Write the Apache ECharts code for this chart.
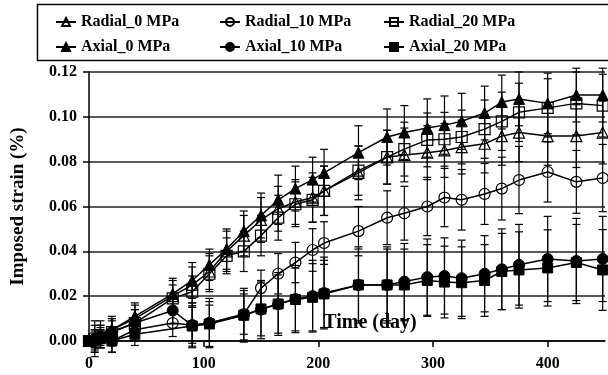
<!DOCTYPE html>
<html>
<head>
<meta charset="utf-8">
<script src="https://cdn.jsdelivr.net/npm/echarts@6/dist/echarts.min.js"></script>
<style>
  html, body { margin: 0; padding: 0; background: #fff; }
  #chart { width: 608px; height: 375px; }
</style>
</head>
<body>
<div id="chart"></div>
<script>
// time in days
const days = [0, 5, 10, 20, 40, 73, 90, 105, 120, 135, 150, 165, 180, 195, 205, 235, 260, 275, 295, 310, 325, 345, 360, 375, 400, 425, 448];

// imposed strain (%)
const radial0 = [0, 0.001, 0.003, 0.005, 0.010, 0.020, 0.025, 0.031, 0.040, 0.047, 0.054, 0.059, 0.062, 0.064, 0.067, 0.075, 0.082, 0.083, 0.084, 0.085, 0.0865, 0.088, 0.0914, 0.093, 0.0914, 0.0914, 0.093];
const radial10 = [0, 0, 0.001, 0, 0.005, 0.008, 0.007, 0.008, null, 0.012, 0.0236, 0.030, 0.035, 0.0406, 0.0437, 0.049, 0.055, 0.057, 0.060, 0.064, 0.063, 0.0656, 0.068, 0.0718, 0.0754, 0.071, 0.0727];
const radial20 = [0, 0.001, 0.002, 0.004, 0.008, 0.019, 0.022, 0.030, 0.038, 0.040, 0.047, 0.055, 0.061, 0.063, 0.067, 0.076, 0.082, 0.0856, 0.0897, 0.090, 0.091, 0.0945, 0.098, 0.102, 0.104, 0.106, 0.105];
const axial0 = [0, 0.001, 0.003, 0.005, 0.011, 0.021, 0.027, 0.034, 0.041, 0.049, 0.056, 0.063, 0.068, 0.072, 0.075, 0.084, 0.091, 0.093, 0.095, 0.0963, 0.098, 0.1017, 0.1066, 0.108, 0.106, 0.1097, 0.1097];
const axial10 = [0, 0.001, 0.002, 0.004, 0.008, 0.0136, 0.007, 0.008, null, 0.0115, 0.014, 0.0165, 0.0187, 0.020, 0.0214, 0.025, 0.025, 0.0265, 0.0285, 0.029, 0.028, 0.030, 0.032, 0.034, 0.0366, 0.0357, 0.0366];
const axial20 = [0, 0, 0.001, 0, 0.003, null, 0.0067, 0.0076, null, 0.0115, 0.0143, 0.0165, 0.0185, 0.0195, 0.021, 0.025, 0.025, 0.025, 0.027, 0.0263, 0.026, 0.027, 0.031, 0.0317, 0.0326, 0.035, 0.0317];

// error (+/-)
const radial0Err = [0.002, 0.004, 0.004, 0.005, 0.006, 0.007, 0.008, 0.008, 0.009, 0.009, 0.010, 0.010, 0.010, 0.011, 0.011, 0.012, 0.012, 0.012, 0.012, 0.012, 0.012, 0.013, 0.013, 0.013, 0.013, 0.014, 0.014];
const radial10Err = [0.002, 0.004, 0.004, 0.005, 0.005, 0.006, 0.008, 0.008, null, 0.009, 0.008, 0.009, 0.009, 0.0095, 0.0095, 0.011, 0.012, 0.012, 0.013, 0.013, 0.0135, 0.0136, 0.014, 0.015, 0.0134, 0.014, 0.015];
const radial20Err = [0.002, 0.004, 0.004, 0.005, 0.006, 0.006, 0.007, 0.008, 0.008, 0.009, 0.009, 0.010, 0.010, 0.010, 0.011, 0.011, 0.012, 0.012, 0.012, 0.012, 0.012, 0.013, 0.013, 0.013, 0.013, 0.014, 0.014];
const axial0Err = [0.002, 0.006, 0.006, 0.006, 0.006, 0.007, 0.008, 0.007, 0.009, 0.009, 0.010, 0.011, 0.010, 0.010, 0.0105, 0.012, 0.0125, 0.012, 0.013, 0.013, 0.0125, 0.012, 0.012, 0.012, 0.0135, 0.012, 0.012];
const axial10Err = [0.002, 0.008, 0.005, 0.006, 0.006, 0.006, 0.010, 0.011, null, 0.012, 0.013, 0.014, 0.015, 0.016, 0.016, 0.017, 0.017, 0.017, 0.017, 0.017, 0.017, 0.017, 0.018, 0.018, 0.019, 0.019, 0.019];
const axial20Err = [0.002, 0.005, 0.004, 0.005, 0.005, null, 0.009, 0.010, null, 0.011, 0.012, 0.013, 0.014, 0.015, 0.015, 0.016, 0.016, 0.016, 0.016, 0.016, 0.016, 0.016, 0.017, 0.017, 0.017, 0.017, 0.018];

const xTicks = [0, 100, 200, 300, 400];

const FONT = 'Liberation Serif';
const chart = echarts.init(document.getElementById('chart'));

const toPts = (vals) => days.map((d, i) => [d, vals[i]]);
const toBars = (vals, err) => days
  .map((d, i) => (vals[i] == null || err[i] == null) ? null : [d, vals[i] - err[i], vals[i] + err[i]])
  .filter(v => v);

function errBar(params, api) {
  const x = api.value(0);
  const top = api.coord([x, api.value(2)]);
  const bot = api.coord([x, api.value(1)]);
  const w = 4;
  const st = { stroke: '#000', lineWidth: 1.2 };
  return {
    type: 'group',
    children: [
      { type: 'line', shape: { x1: top[0], y1: top[1], x2: bot[0], y2: bot[1] }, style: st },
      { type: 'line', shape: { x1: top[0] - w, y1: top[1], x2: top[0] + w, y2: top[1] }, style: st },
      { type: 'line', shape: { x1: bot[0] - w, y1: bot[1], x2: bot[0] + w, y2: bot[1] }, style: st }
    ]
  };
}

const open = { color: 'rgba(255,255,255,0)', borderColor: '#000', borderWidth: 1.2 };
const filled = { color: '#000', borderColor: '#000', borderWidth: 1 };

function lineSeries(name, vals, symbol, size, style) {
  return {
    name, type: 'line', data: toPts(vals), symbol, symbolSize: size,
    showAllSymbol: true, connectNulls: true, clip: false, z: 3,
    lineStyle: { color: '#000', width: 1.5 },
    itemStyle: style
  };
}
function barSeries(vals, err) {
  return {
    type: 'custom', renderItem: errBar, data: toBars(vals, err),
    encode: { x: 0, y: [1, 2] }, z: 2, silent: true
  };
}

const legendBase = {
  orient: 'vertical', top: 9, itemGap: 9, itemWidth: 20, itemHeight: 10,
  textStyle: { fontFamily: FONT, fontWeight: 'bold', fontSize: 16, color: '#000' }
};

const option = {
  animation: false,
  backgroundColor: '#fff',
  textStyle: { fontFamily: FONT },
  graphic: [{
    type: 'rect', left: 35, top: 2, shape: { width: 600, height: 56 },
    style: { fill: 'none', stroke: '#000', lineWidth: 1.5 }
  }],
  legend: [
    Object.assign({ left: 50, data: ['Radial_0 MPa', 'Axial_0 MPa'] }, legendBase),
    Object.assign({ left: 214, data: ['Radial_10 MPa', 'Axial_10 MPa'] }, legendBase),
    Object.assign({ left: 378, data: ['Radial_20 MPa', 'Axial_20 MPa'] }, legendBase)
  ],
  grid: { left: 89, top: 72, width: 516, height: 269 },
  xAxis: {
    type: 'value', min: 0, max: 450, interval: 100,
    name: 'Time (day)', nameLocation: 'middle', nameGap: -28,
    nameTextStyle: { fontFamily: FONT, fontWeight: 'bold', fontSize: 20, color: '#000', padding: [0, 0, 0, 46] },
    axisLine: { show: true, lineStyle: { color: '#000', width: 1.5 } },
    axisTick: { show: true, inside: false, length: 6, lineStyle: { color: '#000', width: 1.5 },
      customValues: xTicks },
    axisLabel: { fontFamily: FONT, fontWeight: 'bold', fontSize: 16, color: '#000', margin: 15,
      customValues: xTicks },
    splitLine: { show: false }
  },
  yAxis: {
    type: 'value', min: 0, max: 0.12, interval: 0.02,
    name: 'Imposed strain (%)', nameLocation: 'middle', nameGap: 61,
    nameTextStyle: { fontFamily: FONT, fontWeight: 'bold', fontSize: 19, color: '#000' },
    axisLine: { show: true, lineStyle: { color: '#000', width: 1.5 } },
    axisTick: { show: true, inside: false, length: 6, lineStyle: { color: '#000', width: 1.5 } },
    axisLabel: { fontFamily: FONT, fontWeight: 'bold', fontSize: 16, color: '#000', margin: 12,
      formatter: v => v.toFixed(2) },
    splitLine: { show: true, lineStyle: { color: '#222', width: 1.5 } }
  },
  series: [
    barSeries(radial0, radial0Err),
    barSeries(radial10, radial10Err),
    barSeries(radial20, radial20Err),
    barSeries(axial0, axial0Err),
    barSeries(axial10, axial10Err),
    barSeries(axial20, axial20Err),
    lineSeries('Radial_0 MPa', radial0, 'triangle', 11, open),
    lineSeries('Radial_10 MPa', radial10, 'circle', 11, open),
    lineSeries('Radial_20 MPa', radial20, 'rect', 11, open),
    lineSeries('Axial_0 MPa', axial0, 'triangle', 11, filled),
    lineSeries('Axial_10 MPa', axial10, 'circle', 11, filled),
    lineSeries('Axial_20 MPa', axial20, 'rect', 10, filled)
  ]
};
chart.setOption(option);
</script>
</body>
</html>
